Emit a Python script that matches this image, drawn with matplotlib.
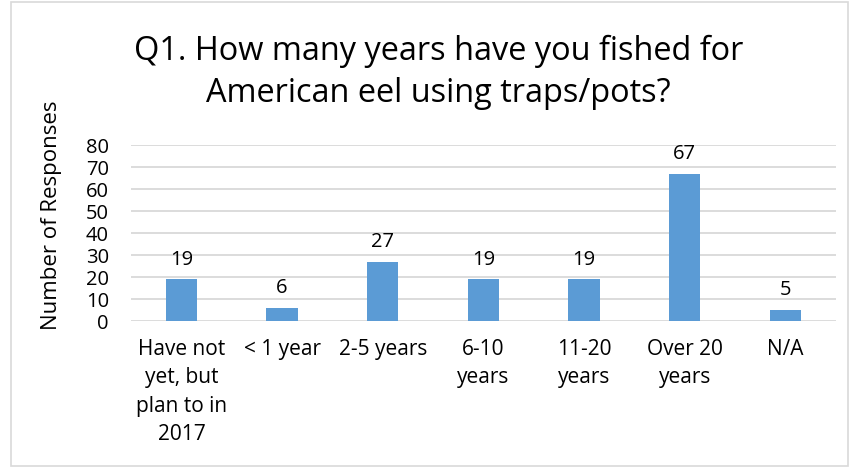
# Q1 survey bar chart: years fishing American eel with traps/pots
import matplotlib.pyplot as plt
from matplotlib.patches import Rectangle

plt.rcParams['font.family'] = ['Open Sans', 'DejaVu Sans']

# Data:
categories = ["Have not\nyet, but\nplan to in\n2017", "< 1 year", "2-5 years",
              "6-10\nyears", "11-20\nyears", "Over 20\nyears", "N/A"]
responses = [19, 6, 27, 19, 19, 67, 5]
yticks = [0, 10, 20, 30, 40, 50, 60, 70, 80]

fig = plt.figure(figsize=(8.51, 4.68), dpi=100)
ax = fig.add_axes([0.154, 0.314, 0.828, 0.376])

x = range(len(categories))
bars = ax.bar(x, responses, width=0.31, color="#5B9BD5", zorder=3)
for b, v in zip(bars, responses):
    ax.annotate(str(v), (b.get_x() + b.get_width() / 2, v), xytext=(0, 7),
                textcoords="offset points", ha="center", va="bottom",
                fontsize=14.5, color="#000000")

ax.set_xlim(-0.5, len(categories) - 0.5)
ax.set_ylim(0, 80)
ax.set_yticks(yticks)
ax.set_xticks(list(x))
ax.set_xticklabels(categories, fontsize=15, linespacing=1.45)
ax.tick_params(axis="y", labelsize=14.5, length=0, pad=16)
ax.tick_params(axis="x", length=0, pad=13)
ax.grid(axis="y", color="#D9D9D9", linewidth=1.3, zorder=0)
for s in ax.spines.values():
    s.set_visible(False)

ax.set_ylabel("Number of Responses", fontsize=16)
ax.yaxis.set_label_coords(-0.098, 0.6)

fig.text(0.515, 0.845, "Q1. How many years have you fished for\nAmerican eel using traps/pots?",
         ha="center", va="center", fontsize=23.4, linespacing=1.38)

# light grey frame around the chart
fig.patches.append(Rectangle((0.013, 0.004), 0.983, 0.992, transform=fig.transFigure,
                             fill=False, edgecolor="#D9D9D9", linewidth=1.2))

fig.savefig("out.png", dpi=100)
